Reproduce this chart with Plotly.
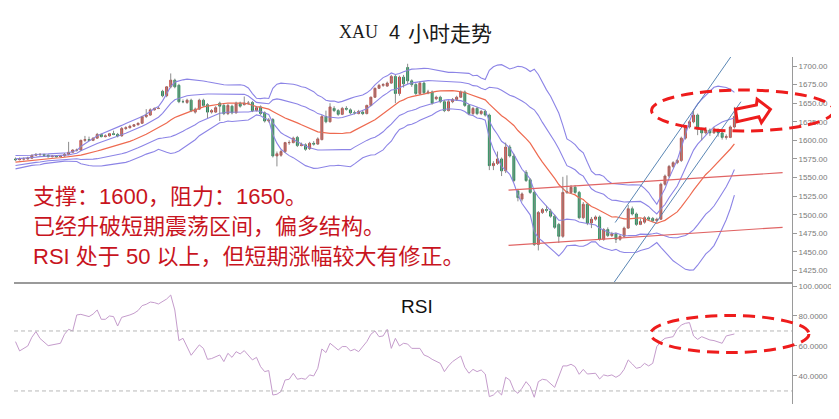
import plotly.graph_objects as go
import pandas as pd

# ---------------- data ----------------
opens = [
    1575,1574,1575,1575,1576,1580,1581,1581,1580,1578,
    1579,1578,1579,1581,1584,1587,1587,1600,1601,1600,
    1603,1608,1605,1606,1609,1608,1606,1616,1617,1619,
    1621,1623,1632,1634,1641,1643,1666,1660,1672,1681,
    1674,1652,1651,1654,1638,1642,1654,1648,1638,1638,
    1650,1647,1636,1646,1637,1650,1648,1650,1651,1640,
    1645,1637,1626,1628,1579,1580,1585,1597,1597,1604,
    1593,1594,1589,1596,1595,1601,1632,1625,1643,1640,
    1635,1643,1641,1637,1636,1638,1636,1647,1658,1670,
    1674,1673,1677,1686,1663,1685,1698,1680,1675,1663,
    1677,1664,1665,1656,1658,1652,1640,1652,1655,1658,
    1665,1647,1636,1643,1636,1639,1634,1566,1569,1575,
    1559,1591,1579,1532,1521,1557,1547,1530,1460,1503,
    1507,1505,1498,1487,1471,1530,1530,1537,1530,1496,
    1514,1489,1494,1497,1467,1480,1472,1474,1467,1471,
    1482,1508,1501,1487,1490,1496,1495,1492,1494,1541,
    1552,1565,1570,1573,1603,1618,1625,1634,1615,1610,
    1614,1610,1614,1610,1604,1604,1618,
]
highs = [
    1577,1577,1577,1578,1581,1583,1583,1582,1581,1580,
    1580,1580,1583,1598,1588,1589,1601,1606,1605,1604,
    1610,1609,1608,1610,1613,1610,1618,1619,1621,1622,
    1624,1633,1642,1643,1644,1645,1668,1673,1690,1683,
    1676,1655,1656,1656,1644,1656,1656,1650,1642,1646,
    1652,1649,1649,1648,1652,1652,1659,1653,1653,1646,
    1647,1639,1630,1630,1585,1587,1598,1600,1605,1606,
    1597,1596,1598,1599,1604,1634,1640,1650,1646,1642,
    1645,1646,1643,1640,1641,1640,1648,1659,1671,1676,
    1677,1679,1688,1688,1687,1688,1703,1682,1677,1679,
    1679,1668,1667,1660,1660,1654,1654,1657,1660,1667,
    1667,1649,1645,1645,1641,1641,1636,1572,1585,1577,
    1597,1594,1582,1535,1530,1560,1549,1532,1505,1509,
    1512,1508,1500,1489,1551,1553,1540,1540,1532,1517,
    1516,1497,1499,1499,1482,1483,1477,1476,1473,1484,
    1513,1511,1503,1495,1498,1498,1497,1496,1543,1554,
    1567,1572,1575,1605,1620,1627,1641,1636,1617,1618,
    1616,1618,1616,1612,1608,1620,1645,
]
lows = [
    1572,1573,1573,1574,1575,1579,1579,1578,1577,1577,
    1577,1577,1578,1580,1583,1585,1586,1598,1599,1599,
    1602,1604,1604,1605,1607,1604,1605,1614,1616,1618,
    1620,1622,1630,1633,1640,1642,1658,1658,1670,1670,
    1650,1650,1649,1638,1636,1641,1645,1630,1636,1637,
    1626,1634,1634,1635,1636,1644,1647,1648,1638,1639,
    1634,1624,1624,1577,1565,1578,1583,1594,1596,1591,
    1592,1586,1587,1593,1594,1600,1623,1624,1638,1633,
    1634,1640,1635,1635,1635,1634,1635,1646,1657,1669,
    1672,1672,1676,1650,1660,1671,1676,1672,1661,1661,
    1662,1662,1648,1654,1650,1638,1639,1650,1653,1657,
    1645,1634,1634,1634,1634,1632,1560,1560,1567,1552,
    1556,1577,1544,1518,1518,1544,1528,1458,1452,1501,
    1503,1496,1481,1462,1469,1528,1528,1528,1494,1494,
    1486,1482,1492,1465,1465,1470,1470,1462,1465,1469,
    1481,1499,1485,1486,1488,1492,1490,1491,1493,1539,
    1550,1563,1568,1571,1601,1616,1623,1607,1600,1608,
    1606,1609,1605,1601,1601,1603,1616,
]
closes = [
    1574,1575,1575,1576,1580,1581,1581,1580,1578,1579,
    1578,1579,1581,1584,1587,1587,1600,1601,1600,1603,
    1608,1605,1606,1609,1608,1606,1616,1617,1619,1621,
    1623,1632,1634,1641,1643,1643,1660,1672,1681,1672,
    1652,1652,1654,1640,1642,1654,1647,1638,1640,1644,
    1646,1636,1647,1637,1650,1646,1650,1650,1640,1644,
    1636,1626,1627,1579,1582,1585,1597,1597,1603,1593,
    1594,1588,1596,1595,1602,1632,1625,1645,1640,1635,
    1643,1642,1637,1637,1639,1636,1647,1658,1670,1674,
    1675,1677,1686,1663,1685,1676,1680,1675,1663,1677,
    1664,1665,1650,1658,1652,1640,1652,1655,1658,1665,
    1647,1636,1643,1636,1639,1634,1566,1569,1575,1559,
    1591,1579,1546,1523,1528,1546,1530,1460,1503,1507,
    1506,1498,1483,1471,1530,1531,1537,1530,1496,1514,
    1489,1494,1497,1467,1480,1472,1474,1467,1471,1482,
    1508,1501,1487,1491,1496,1494,1492,1494,1541,1552,
    1565,1570,1573,1603,1618,1625,1634,1615,1610,1614,
    1610,1615,1610,1604,1605,1618,1632,
]
# 19 closes before the first visible bar (feed the 20-bar bands)
pre_closes = [1562,1564,1566,1563,1567,1569,1566,1570,1572,1571,
              1573,1570,1574,1575,1573,1576,1575,1577,1576]

# RSI readings: candle index and value
rsi_idx = [0,1,3,4,5,6,8,9,11,12,13,14,15,16,18,19,20,21,22,23,
           24,25,26,28,29,30,31,32,33,34,35,37,38,39,40,41,43,44,45,46,
           47,48,50,51,52,53,54,55,56,58,59,60,61,62,63,64,65,66,67,68,
           69,70,71,72,73,74,75,76,77,78,79,80,81,82,83,84,86,87,88,89,
           90,91,92,93,94,95,96,97,99,100,101,102,104,105,106,107,109,110,111,112,
           113,114,115,116,117,118,119,120,121,122,123,124,125,126,127,128,129,130,131,132,
           134,135,136,137,138,139,140,141,142,143,144,145,146,147,148,149,150,151,152,153,
           154,155,156,157,158,159,161,162,163,164,165,166,167,168,170,171,173,174,176]
rsi_val = [62.9,56.7,60.0,65.8,69.6,65.0,60.2,60.7,61.8,67.8,71.1,70.0,80.7,81.1,79.6,81.3,84.0,77.8,77.8,80.0,
           79.6,73.3,79.1,80.7,81.8,83.6,86.9,87.8,89.3,88.9,88.0,91.3,94.0,84.0,63.6,65.1,53.8,57.3,60.7,58.4,
           51.1,51.6,54.0,49.6,55.1,52.4,56.2,54.7,56.9,50.7,52.4,46.2,42.9,43.6,27.3,27.8,29.6,37.3,37.8,41.8,
           37.8,38.4,37.8,40.7,40.0,45.1,58.0,55.6,61.8,59.6,57.3,59.6,59.6,56.7,57.8,56.2,62.9,67.8,70.0,66.2,
           66.7,71.1,58.4,65.1,60.0,61.8,61.3,58.4,58.4,54.0,52.9,51.1,48.4,42.9,46.7,49.6,53.3,45.8,41.8,44.4,
           42.9,44.0,41.3,26.2,27.3,30.0,27.3,39.1,37.3,30.7,28.4,31.8,36.2,32.9,25.8,36.2,37.8,37.3,35.1,32.4,
           46.7,46.7,47.8,46.2,41.1,44.4,41.3,41.3,41.8,38.0,40.7,40.0,40.7,39.1,40.7,44.4,50.7,48.0,45.1,45.8,
           48.4,46.7,48.4,59.6,62.9,65.1,66.2,71.1,74.0,75.1,75.6,66.7,64.4,66.2,64.0,63.6,61.8,66.7,68.0]

price_ticks = [1425, 1450, 1475, 1500, 1525, 1550, 1575, 1600, 1625, 1650, 1675, 1700]
rsi_ticks = [40, 60, 80, 100]
rsi_levels = [70, 30]

title_parts = ["XAU", "4", "小时走势"]
notes = ["支撑：1600，阻力：1650。",
         "已经升破短期震荡区间，偏多结构。",
         "RSI 处于 50 以上，但短期涨幅较大有修正。"]

# analyst trend lines (candle index, price)
red_channel = [((120.7, 1533.2), (187.8, 1556.5)),
               ((120.7, 1458.9), (187.8, 1483.1))]
blue_channel = [((146.8, 1489.5), (175.1, 1712.1)),
                ((146.6, 1409.5), (177.6, 1652.0))]

# ---------------- derived indicators ----------------
s = pd.Series(pre_closes + closes, dtype=float)
mid = s.rolling(20).mean().iloc[len(pre_closes):].tolist()
sd = s.rolling(20).std(ddof=0).iloc[len(pre_closes):].tolist()
xs = list(range(len(closes)))

# ---------------- geometry (page pixels; the page body has an 8px margin) ----------------
PAGE_OFF = 8
PLOT_L, PLOT_T, PLOT_R, PLOT_B = 14, 57, 795, 404
W_FIG, H_FIG = 839 - PAGE_OFF, 419 - PAGE_OFF
L, T = PLOT_L - PAGE_OFF, PLOT_T - PAGE_OFF
R, B = 839 - PLOT_R, 419 - PLOT_B
PW, PH = PLOT_R - PLOT_L, PLOT_B - PLOT_T
split = 121 / PH  # RSI panel share


def paper(px, py):
    return (px - PLOT_L) / PW, (PLOT_B - py) / PH


fig = go.Figure()

band_col = "#8c84e6"
for k in (2, 1, -1, -2):
    fig.add_trace(go.Scatter(x=xs, y=[m + k * d for m, d in zip(mid, sd)],
                             mode="lines", line=dict(color=band_col, width=1.1),
                             hoverinfo="skip", showlegend=False))
fig.add_trace(go.Scatter(x=xs, y=mid, mode="lines",
                         line=dict(color="#ee6a50", width=1.2),
                         hoverinfo="skip", showlegend=False))

# wicks
wx, wy = [], []
for i, (h, l) in enumerate(zip(highs, lows)):
    wx += [i, i, None]
    wy += [l, h, None]
fig.add_trace(go.Scatter(x=wx, y=wy, mode="lines",
                         line=dict(color="#8c8c8c", width=1),
                         hoverinfo="skip", showlegend=False))

body_hi = [max(o, c) for o, c in zip(opens, closes)]
body_lo = [min(o, c) for o, c in zip(opens, closes)]
fig.add_trace(go.Candlestick(
    x=xs, open=opens, high=body_hi, low=body_lo, close=closes,
    increasing=dict(line=dict(color="#b8362e", width=0.8), fillcolor="#e8564c"),
    decreasing=dict(line=dict(color="#13804a", width=0.8), fillcolor="#21ad62"),
    whiskerwidth=0, showlegend=False))

fig.add_trace(go.Scatter(x=rsi_idx, y=rsi_val, mode="lines",
                         line=dict(color="#c59ccc", width=1),
                         yaxis="y2", hoverinfo="skip", showlegend=False))

shapes = []
for (x0, y0), (x1, y1) in red_channel:
    shapes.append(dict(type="line", xref="x", yref="y", x0=x0, y0=y0, x1=x1, y1=y1,
                       line=dict(color="#e06464", width=1.2)))
for (x0, y0), (x1, y1) in blue_channel:
    shapes.append(dict(type="line", xref="x", yref="y", x0=x0, y0=y0, x1=x1, y1=y1,
                       line=dict(color="#5a86b4", width=1)))
for lv in rsi_levels:
    shapes.append(dict(type="line", xref="paper", yref="y2", x0=0, x1=1, y0=lv, y1=lv,
                       line=dict(color="#b8b8b8", width=1, dash="4px,3px")))
# panel separator
shapes.append(dict(type="line", xref="paper", yref="paper", x0=0, x1=1, y0=split, y1=split,
                   line=dict(color="#9a9a9a", width=2)))

# dashed ellipses
for (cx0, cy0, cx1, cy1) in [(654, 90, 837, 131), (653, 315.5, 812, 352.5)]:
    ax0, ay0 = paper(cx0, cy1)
    ax1, ay1 = paper(cx1, cy0)
    shapes.append(dict(type="circle", xref="paper", yref="paper",
                       x0=ax0, y0=ay0, x1=ax1, y1=ay1,
                       line=dict(color="#ee1c1c", width=3, dash="12px,7px")))

# hollow arrow
arrow_px = [(738.3, 109.3), (759.3, 105.0), (760.0, 99.3), (773.3, 109.3),
            (764.3, 122.7), (761.7, 116.7), (740.0, 121.7)]
pts = [paper(a, b) for a, b in arrow_px]
path = "M " + " L ".join(f"{a:.5f},{b:.5f}" for a, b in pts) + " Z"
shapes.append(dict(type="path", xref="paper", yref="paper", path=path,
                   fillcolor="white", line=dict(color="#ee1c1c", width=3)))

annotations = []
# title
for txt, cx, fam, size in [(title_parts[0], 359.5, "Liberation Serif", 18),
                           (title_parts[1], 396, "Liberation Sans", 20),
                           (title_parts[2], 451.5, "Noto Sans CJK SC", 21)]:
    ax, ay = paper(cx, 32)
    annotations.append(dict(text=txt, x=ax, y=ay, xref="paper", yref="paper",
                            xanchor="center", yanchor="middle", showarrow=False,
                            font=dict(family=fam, size=size, color="#1a1a1a")))
# notes
for txt, cy in zip(notes, [196.5, 226, 256]):
    ax, ay = paper(31, cy)
    annotations.append(dict(text=txt, x=ax, y=ay, xref="paper", yref="paper",
                            xanchor="left", yanchor="middle", showarrow=False,
                            font=dict(family="Liberation Sans, Noto Sans CJK SC",
                                      size=22, color="#c8141e")))
# RSI label
ax, ay = paper(419, 306)
annotations.append(dict(text="RSI", x=ax, y=ay, xref="paper", yref="paper",
                        xanchor="center", yanchor="middle", showarrow=False,
                        font=dict(family="Liberation Sans", size=19, color="#111111")))

axis_common = dict(side="right", anchor="x", showgrid=False, zeroline=False,
                   showline=True, linecolor="#9a9a9a", linewidth=1,
                   ticks="outside", ticklen=4, tickcolor="#9a9a9a",
                   tickfont=dict(family="Liberation Sans", size=8, color="#7a7a7a"))

fig.update_layout(
    width=W_FIG, height=H_FIG,
    margin=dict(l=L, r=R, t=T, b=B),
    paper_bgcolor="white", plot_bgcolor="white",
    showlegend=False,
    xaxis=dict(range=[-0.37, 190.1], showticklabels=False, showgrid=False,
               zeroline=False, showline=False, ticks="",
               rangeslider=dict(visible=False)),
    yaxis=dict(domain=[split, 1], range=[1408.2, 1712.1], tickvals=price_ticks,
               tickformat=".2f", **axis_common),
    yaxis2=dict(domain=[0, split], range=[21.3, 102], tickvals=rsi_ticks,
                tickformat=".4f", **axis_common),
    shapes=shapes, annotations=annotations,
)

fig.write_html("out.html")
